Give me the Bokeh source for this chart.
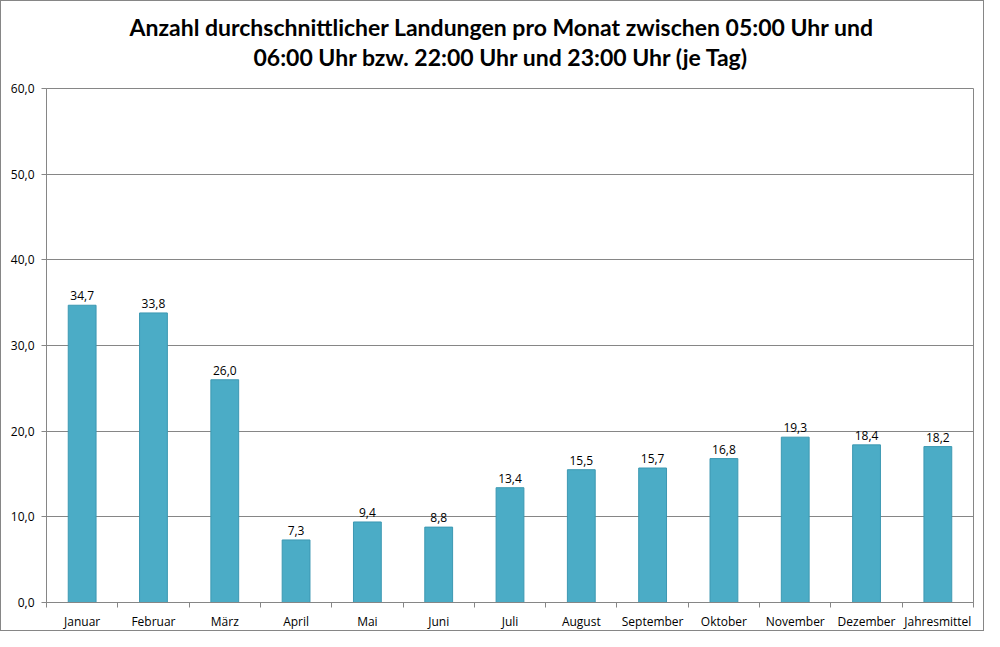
from bokeh.plotting import figure
from bokeh.models import ColumnDataSource, FixedTicker, Range1d, Title, LabelSet
from bokeh.core.properties import value
from bokeh.embed import file_html
from bokeh.resources import INLINE

categories = ["Januar", "Februar", "März", "April", "Mai", "Juni", "Juli", "August",
              "September", "Oktober", "November", "Dezember", "Jahresmittel"]
values = [34.7, 33.8, 26.0, 7.3, 9.4, 8.8, 13.4, 15.5, 15.7, 16.8, 19.3, 18.4, 18.2]
y_ticks = [0, 10, 20, 30, 40, 50, 60]
title_lines = ["Anzahl durchschnittlicher Landungen pro Monat zwischen 05:00 Uhr und",
               "06:00 Uhr bzw. 22:00 Uhr und 23:00 Uhr (je Tag)"]

xs = [i + 0.5 for i in range(len(categories))]
labels = [f"{v:.1f}".replace(".", ",") for v in values]
src = ColumnDataSource(dict(x=xs, top=values, lab=labels))

FONT = "Open Sans"
GRAY = "#868686"

p = figure(width=984, height=631, output_backend="svg", toolbar_location=None,
           x_range=Range1d(0, len(categories)), y_range=Range1d(0, 60),
           min_border_left=45, min_border_right=12, min_border_top=87, min_border_bottom=28)
p.title = None
# blank spacer nearest to the frame
p.add_layout(Title(text=" ", text_font_size="10px", standoff=4, text_color="white"), "above")
p.add_layout(Title(text=title_lines[1], align="left", offset=207, text_font="Lato",
                   text_font_size="23px", text_font_style="bold", text_color="black",
                   standoff=1), "above")
p.add_layout(Title(text=title_lines[0], align="left", offset=83, text_font="Lato",
                   text_font_size="23px", text_font_style="bold", text_color="black",
                   standoff=0), "above")

p.vbar(x="x", top="top", width=0.39, bottom=0, source=src,
       fill_color="#4BACC6", line_color="#3C98B2", line_width=1)

p.add_layout(LabelSet(x="x", y="top", text="lab", source=src, text_align="center",
                      text_baseline="bottom", y_offset=5, text_font_size="12px",
                      text_font=value(FONT), text_color="black"))

p.grid.visible = False
p.ygrid.visible = True
p.ygrid.grid_line_color = GRAY
p.ygrid.grid_line_width = 1
p.yaxis.ticker = FixedTicker(ticks=y_ticks)
p.yaxis.major_label_overrides = {t: f"{t:.1f}".replace(".", ",") for t in y_ticks}
p.yaxis.minor_tick_line_color = None
p.yaxis.major_tick_in = 0
p.yaxis.major_tick_out = 5
p.yaxis.axis_line_color = GRAY
p.yaxis.major_tick_line_color = GRAY
p.yaxis.major_label_text_font = FONT
p.yaxis.major_label_text_font_size = "12px"
p.yaxis.major_label_text_color = "black"
p.yaxis.major_label_standoff = 7

p.xaxis.ticker = FixedTicker(ticks=xs, minor_ticks=list(range(len(categories) + 1)))
p.xaxis.major_label_overrides = {x: c for x, c in zip(xs, categories)}
p.xaxis.major_tick_line_color = None
p.xaxis.minor_tick_in = 0
p.xaxis.minor_tick_out = 5
p.xaxis.minor_tick_line_color = GRAY
p.xaxis.axis_line_color = GRAY
p.xaxis.major_label_text_font = FONT
p.xaxis.major_label_text_font_size = "12px"
p.xaxis.major_label_text_color = "black"
p.xaxis.major_label_standoff = 4

p.outline_line_color = GRAY
p.styles = {"border": "1px solid #868686", "box-sizing": "border-box"}

open("out.html", "w").write(file_html(p, INLINE))
